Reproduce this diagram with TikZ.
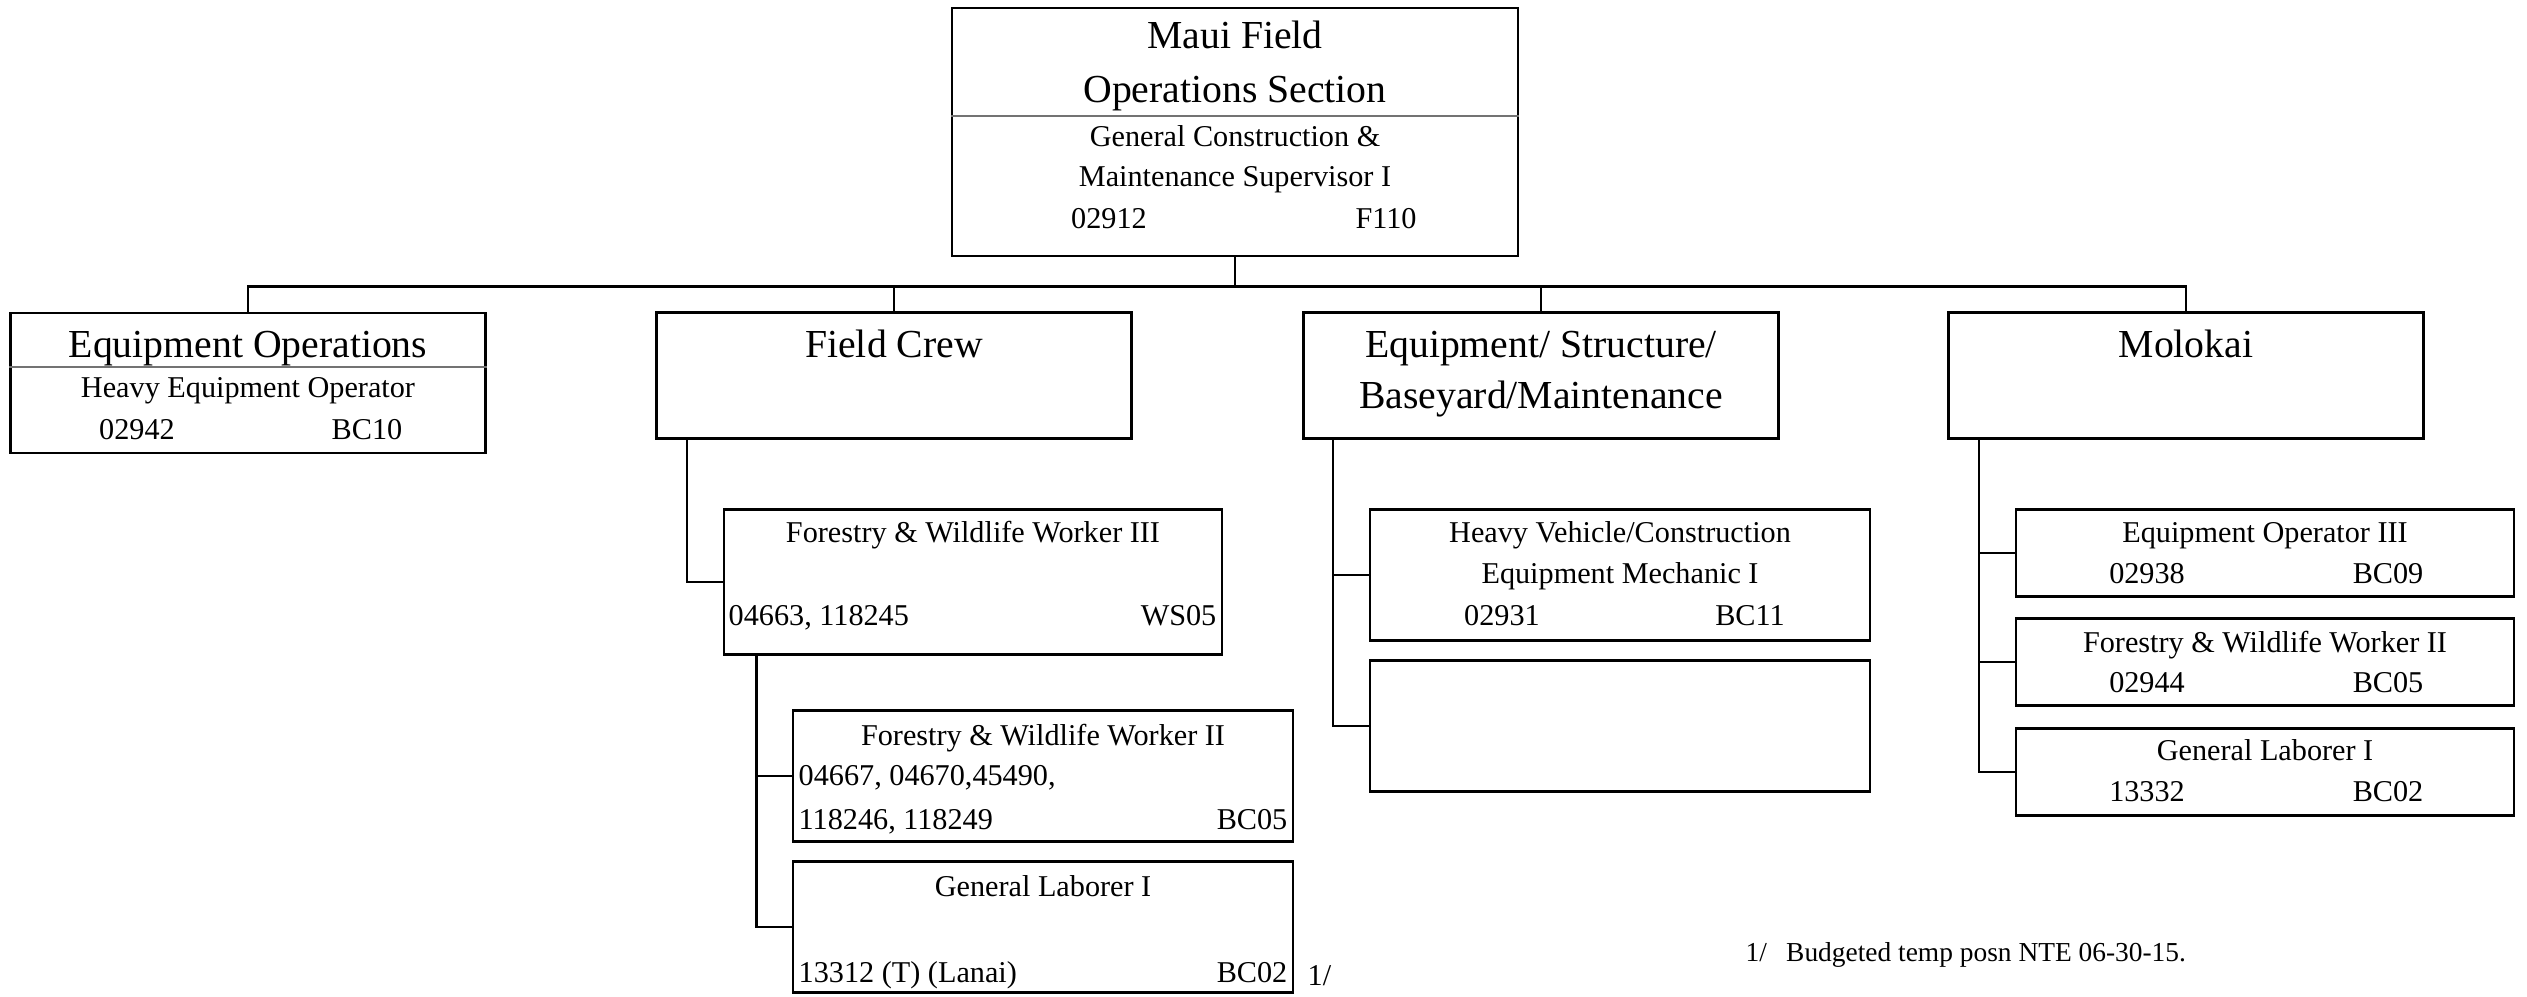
\documentclass[tikz,border=0pt]{standalone}
\usepackage{fontspec}
\setmainfont{Liberation Serif}
\usetikzlibrary{calc}

\begin{document}
\begin{tikzpicture}[
    orgbox/.style={draw, line width=0.8pt, inner sep=0pt},
    hd/.style={font=\fontsize{11.3}{15.6}\selectfont, inner sep=0pt, anchor=base},
    txt/.style={font=\fontsize{8.6}{11.7}\selectfont, inner sep=0pt, anchor=base},
    link/.style={line width=0.7pt},
    sep/.style={draw=black!55, line width=0.4pt}
]
\useasboundingbox (0,0) rectangle (25.27,-9.97);

% section head
\node[orgbox, minimum width=5.66cm, minimum height=2.48cm] (top) at (12.35,-1.32) {};
\node[hd] (topA) at (12.35,-0.49) {Maui Field};
\node[hd] (topB) at (12.35,-1.03) {Operations Section};
\draw[sep] (top.west |- 0,-1.16) -- (top.east |- 0,-1.16);
\node[txt] (topC) at (12.35,-1.47) {General Construction \&};
\node[txt] (topD) at (12.35,-1.87) {Maintenance Supervisor I};
\node[txt] (topE) at (11.09,-2.29) {02912};
\node[txt] (topF) at (13.86,-2.29) {F110};

% units
\node[orgbox, minimum width=4.75cm, minimum height=1.40cm] (eqops) at (2.48,-3.83) {};
\node[orgbox, minimum width=4.75cm, minimum height=1.26cm] (crew) at (8.94,-3.755) {};
\node[orgbox, minimum width=4.75cm, minimum height=1.26cm] (struct) at (15.41,-3.755) {};
\node[orgbox, minimum width=4.75cm, minimum height=1.26cm] (molokai) at (21.86,-3.755) {};

\draw[link] (top.south) -- ++(0,-0.29) -| (eqops.north);
\draw[link] (top.south) -- ++(0,-0.29) -| (crew.north);
\draw[link] (top.south) -- ++(0,-0.29) -| (struct.north);
\draw[link] (top.south) -- ++(0,-0.29) -| (molokai.north);

\node[hd] (eqopsA) at (2.48,-3.58) {Equipment Operations};
\draw[sep] (eqops.west |- 0,-3.67) -- (eqops.east |- 0,-3.67);
\node[txt] (eqopsB) at (2.48,-3.98) {Heavy Equipment Operator};
\node[txt] (eqopsC) at (1.37,-4.40) {02942};
\node[txt] (eqopsD) at (3.67,-4.40) {BC10};

\node[hd] (crewA) at (8.94,-3.58) {Field Crew};
\node[hd] (structA) at (15.41,-3.58) {Equipment/ Structure/};
\node[hd] (structB) at (15.41,-4.09) {Baseyard/Maintenance};
\node[hd] (molokaiA) at (21.86,-3.58) {Molokai};

% field crew
\node[orgbox, minimum width=4.98cm, minimum height=1.45cm] (fw3) at (9.73,-5.82) {};
\node[orgbox, minimum width=5.00cm, minimum height=1.31cm] (fw2) at (10.43,-7.76) {};
\node[orgbox, minimum width=5.00cm, minimum height=1.31cm] (lab) at (10.43,-9.27) {};

\draw[link] ($(crew.south west)+(0.32,0)$) |- (fw3.west);
\draw[link] ($(fw3.south west)+(0.34,0)$) |- (fw2.west);
\draw[link] ($(fw3.south west)+(0.34,0)$) |- (lab.west);

\node[txt] (fw3A) at (9.73,-5.43) {Forestry \& Wildlife Worker III};
\node[txt, anchor=base west] (fw3B) at (7.28,-6.26) {04663, 118245};
\node[txt, anchor=base east] (fw3C) at (12.17,-6.26) {WS05};

\node[txt] (fw2A) at (10.43,-7.45) {Forestry \& Wildlife Worker II};
\node[txt, anchor=base west] (fw2B) at (7.98,-7.85) {04667, 04670,45490,};
\node[txt, anchor=base west] (fw2C) at (7.98,-8.29) {118246, 118249};
\node[txt, anchor=base east] (fw2D) at (12.88,-8.29) {BC05};

\node[txt] (labA) at (10.43,-8.96) {General Laborer I};
\node[txt, anchor=base west] (labB) at (7.98,-9.82) {13312 (T) (Lanai)};
\node[txt, anchor=base east] (labC) at (12.88,-9.82) {BC02};
\node[txt, anchor=base west] (note1) at (13.07,-9.85) {1/};

% equipment / structure
\node[orgbox, minimum width=5.00cm, minimum height=1.31cm] (mech) at (16.20,-5.75) {};
\node[orgbox, minimum width=5.00cm, minimum height=1.31cm] (blank) at (16.20,-7.26) {};

\draw[link] ($(struct.south west)+(0.31,0)$) |- (mech.west);
\draw[link] ($(struct.south west)+(0.31,0)$) |- (blank.west);

\node[txt] (mechA) at (16.20,-5.43) {Heavy Vehicle/Construction};
\node[txt] (mechB) at (16.20,-5.84) {Equipment Mechanic I};
\node[txt] (mechC) at (15.02,-6.26) {02931};
\node[txt] (mechD) at (17.50,-6.26) {BC11};

% molokai
\node[orgbox, minimum width=4.98cm, minimum height=0.87cm] (eo3) at (22.65,-5.53) {};
\node[orgbox, minimum width=4.98cm, minimum height=0.87cm] (mfw2) at (22.65,-6.62) {};
\node[orgbox, minimum width=4.98cm, minimum height=0.87cm] (mlab) at (22.65,-7.72) {};

\draw[link] ($(molokai.south west)+(0.32,0)$) |- (eo3.west);
\draw[link] ($(molokai.south west)+(0.32,0)$) |- (mfw2.west);
\draw[link] ($(molokai.south west)+(0.32,0)$) |- (mlab.west);

\node[txt] (eo3A) at (22.65,-5.43) {Equipment Operator III};
\node[txt] (eo3B) at (21.47,-5.84) {02938};
\node[txt] (eo3C) at (23.88,-5.84) {BC09};
\node[txt] (mfw2A) at (22.65,-6.53) {Forestry \& Wildlife Worker II};
\node[txt] (mfw2B) at (21.47,-6.93) {02944};
\node[txt] (mfw2C) at (23.88,-6.93) {BC05};
\node[txt] (mlabA) at (22.65,-7.61) {General Laborer I};
\node[txt] (mlabB) at (21.47,-8.01) {13332};
\node[txt] (mlabC) at (23.88,-8.01) {BC02};

\node[txt, anchor=base west, font=\fontsize{7.8}{9.5}\selectfont] (footnote) at (17.45,-9.61) {1/\hspace{0.7em}Budgeted temp posn NTE 06-30-15.};
\end{tikzpicture}
\end{document}
